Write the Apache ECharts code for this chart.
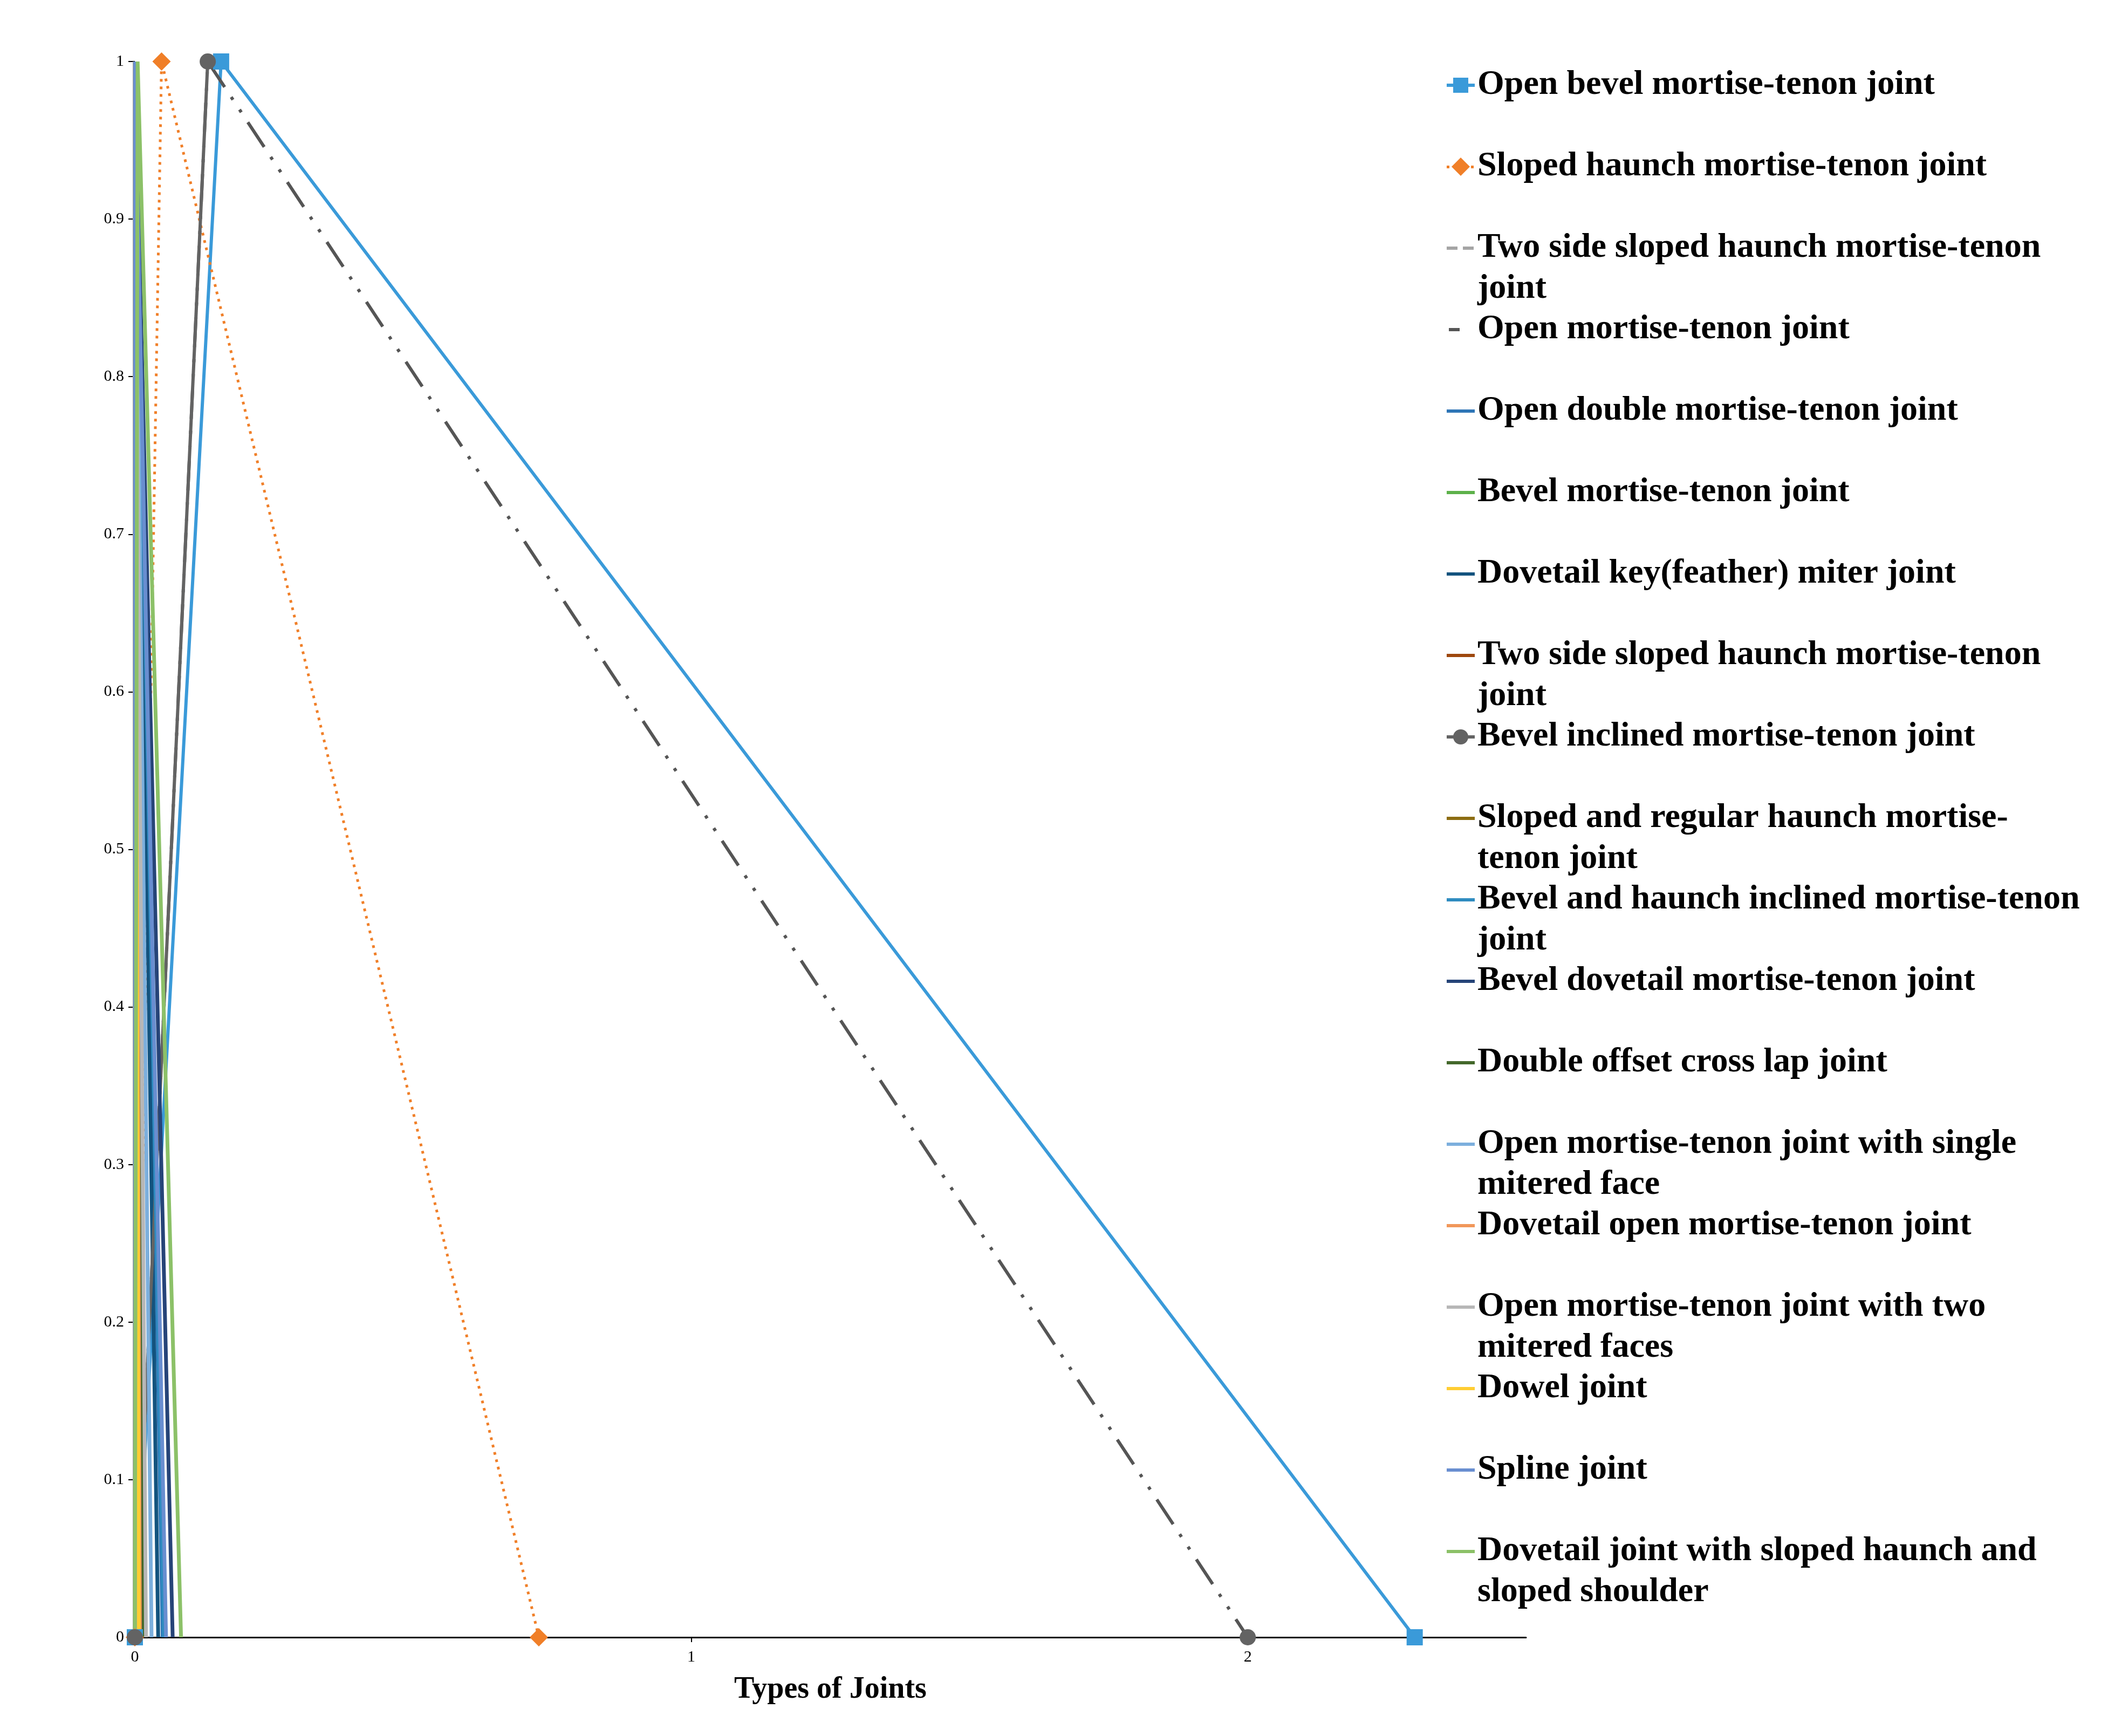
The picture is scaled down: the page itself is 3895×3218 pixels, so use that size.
<!DOCTYPE html>
<html>
<head>
<meta charset="utf-8">
<script src="https://cdn.jsdelivr.net/npm/echarts@6/dist/echarts.min.js"></script>
<style>
  html, body { margin: 0; padding: 0; background: #fff; }
  #chart { width: 3895px; height: 3218px; }
</style>
</head>
<body>
<div id="chart"></div>
<script>
// joint names, in legend order
var names = [
  'Open bevel mortise-tenon joint',
  'Sloped haunch mortise-tenon joint',
  'Two side sloped haunch mortise-tenon joint',
  'Open mortise-tenon joint',
  'Open double mortise-tenon joint',
  'Bevel mortise-tenon joint',
  'Dovetail key(feather) miter joint',
  'Two side sloped haunch mortise-tenon joint ',
  'Bevel inclined mortise-tenon joint',
  'Sloped and regular haunch mortise-tenon joint',
  'Bevel and haunch inclined mortise-tenon joint',
  'Bevel dovetail mortise-tenon joint',
  'Double offset cross lap joint',
  'Open mortise-tenon joint with single mitered face',
  'Dovetail open mortise-tenon joint',
  'Open mortise-tenon joint with two mitered faces',
  'Dowel joint',
  'Spline joint',
  'Dovetail joint with sloped haunch and sloped shoulder'
];

// legend text as wrapped in the figure
var legendLabels = [
  'Open bevel mortise-tenon joint',
  'Sloped haunch mortise-tenon joint',
  'Two side sloped haunch mortise-tenon\njoint',
  'Open mortise-tenon joint',
  'Open double mortise-tenon joint',
  'Bevel mortise-tenon joint',
  'Dovetail key(feather) miter joint',
  'Two side sloped haunch mortise-tenon\njoint',
  'Bevel inclined mortise-tenon joint',
  'Sloped and regular haunch mortise-\ntenon joint',
  'Bevel and haunch inclined mortise-tenon\njoint',
  'Bevel dovetail mortise-tenon joint',
  'Double offset cross lap joint',
  'Open mortise-tenon joint with single\nmitered face',
  'Dovetail open mortise-tenon joint',
  'Open mortise-tenon joint with two\nmitered faces',
  'Dowel joint',
  'Spline joint',
  'Dovetail joint with sloped haunch and\nsloped shoulder'
];

// triangle points: (leftX, 0) -> (peakX, 1) -> (rightX, 0)
var leftX  = [0, 0, 0, 0, 0, 0, 0, 0, 0, 0, 0, 0, 0, 0, 0, 0, 0, 0, 0];
var peakX  = [0.155, 0.048, 0, 0.131, 0, 0, 0, 0, 0.131, 0, 0, 0, 0, 0, 0, 0, 0, 0, 0.005];
var rightX = [2.30, 0.726, 0.004, 2.0, 0.05, 0.004, 0.042, 0.011, 2.0, 0.013, 0.052, 0.068, 0.016, 0.03, 0.009, 0.02, 0.007, 0.056, 0.083];
var membership = [0, 1, 0];

var xTicks = [0, 1, 2];

var colors = ['#3A9AD9', '#F07F28', '#A5A5A5', '#555555', '#2E75B6', '#5DB14A', '#13537E',
  '#9E480E', '#636363', '#8C6D12', '#2E8BC0', '#264478', '#43682B', '#7CAFDD',
  '#F1975A', '#B7B7B7', '#FFCD33', '#698ED0', '#8CC168'];

var serif = 'Liberation Serif';

// legend icons, drawn in a 52 x 151 box; the mark sits level with the first text line
var box = 'M0,0L0.01,0L0,0.01Z M52,151L51.99,151L52,150.99Z ';
var bar = 'M0,35H52V41H0Z';
var iconSquare = 'path://' + box + bar + ' M12,24H40V52H12Z';
var iconDiamond = 'path://' + box + 'M0,36H5V41H0Z M45,36H50V41H45Z M26,21L43,38L26,55L9,38Z';
var iconCircle = 'path://' + box + bar + ' M12,38A14,14 0 1,1 40,38A14,14 0 1,1 12,38Z';
var iconDashed = 'path://' + box + 'M0,35H20V41H0Z M30,35H50V41H30Z';
var iconShort = 'path://' + box + 'M4,35H24V41H4Z';
var iconBar = 'path://' + box + bar;

var series = [];
var legendData = [];
for (var i = 0; i < names.length; i++) {
  var data = [
    [leftX[i], membership[0]],
    [peakX[i], membership[1]],
    [rightX[i], membership[2]]
  ];
  var s = {
    name: names[i],
    type: 'line',
    data: data,
    symbol: 'none',
    animation: false,
    lineStyle: { color: colors[i], width: 7 },
    itemStyle: { color: colors[i] }
  };
  var icon = iconBar;
  if (i === 0) {
    s.symbol = 'rect';
    s.symbolSize = 30;
    s.lineStyle.width = 6;
    icon = iconSquare;
  }
  if (i === 1) {
    s.symbol = 'diamond';
    s.symbolSize = 34;
    s.lineStyle.type = [5, 9];
    s.lineStyle.width = 5;
    icon = iconDiamond;
  }
  if (i === 2) {
    s.lineStyle.type = [16, 10];
    icon = iconDashed;
  }
  if (i === 3) {
    s.lineStyle.type = [55, 22, 6, 22, 6, 22];
    s.lineStyle.width = 6;
    icon = iconShort;
  }
  if (i === 8) {
    // solid rising edge only, the falling edge is the dash-dot line above
    s.data = [data[0], data[1], ['-', '-'], data[2]];
    s.symbol = 'circle';
    s.symbolSize = 30;
    s.lineStyle.width = 6;
    icon = iconCircle;
  }
  series.push(s);
  legendData.push({ name: names[i], icon: icon });
}

var chart = echarts.init(document.getElementById('chart'));
chart.setOption({
  backgroundColor: '#fff',
  color: colors,
  grid: {
    left: 250,
    right: 1066,
    top: 114,
    bottom: 183,
    outerBoundsMode: 'none'
  },
  legend: {
    orient: 'vertical',
    left: 2682,
    top: 120,
    padding: 0,
    itemWidth: 52,
    itemHeight: 151,
    itemGap: 0,
    data: legendData,
    itemStyle: { borderWidth: 0 },
    formatter: function (name) {
      var label = legendLabels[names.indexOf(name)];
      // every entry takes two text lines so all rows keep the same pitch
      return label.indexOf('\n') >= 0 ? label : label + '\n ';
    },
    textStyle: {
      fontFamily: serif,
      fontWeight: 'bold',
      fontSize: 64,
      lineHeight: 75.5,
      color: '#000'
    }
  },
  xAxis: {
    type: 'value',
    min: 0,
    max: 2.5,
    interval: 1,
    name: 'Types of Joints',
    nameLocation: 'middle',
    nameGap: 70,
    nameTextStyle: { fontFamily: serif, fontWeight: 'bold', fontSize: 56, color: '#000' },
    splitLine: { show: false },
    axisLine: { show: true, lineStyle: { color: '#000', width: 3 } },
    axisTick: { show: true, length: 9, lineStyle: { color: '#000', width: 2 }, customValues: xTicks },
    axisLabel: { fontFamily: serif, fontSize: 30, color: '#000', margin: 22, customValues: xTicks }
  },
  yAxis: {
    type: 'value',
    min: 0,
    max: 1,
    interval: 0.1,
    splitLine: { show: false },
    axisLine: { show: false },
    axisTick: { show: true, length: 12, lineStyle: { color: '#000', width: 2 } },
    axisLabel: { fontFamily: serif, fontSize: 30, color: '#000', margin: 20 }
  },
  series: series
});
</script>
</body>
</html>
